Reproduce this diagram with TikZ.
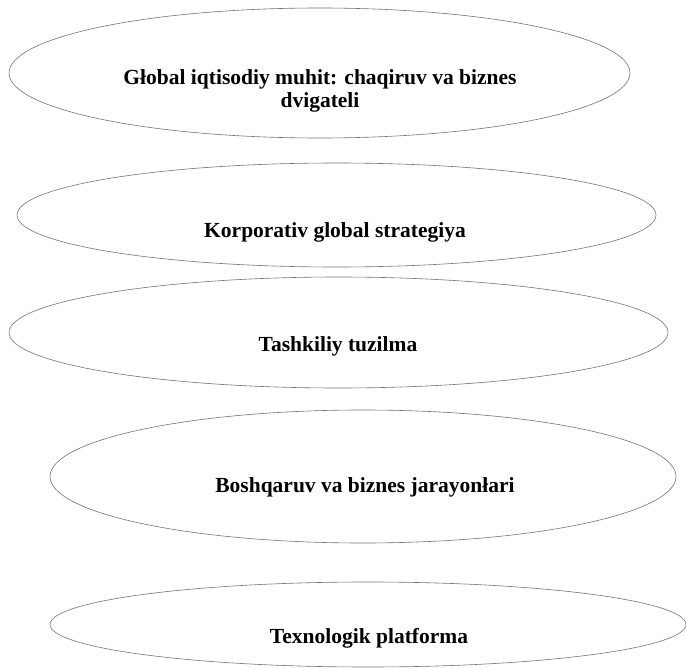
\documentclass[tikz,border=0pt]{standalone}
\usepackage{fontspec}
\setmainfont{Liberation Serif}
\usepackage{tikz}
\usetikzlibrary{shapes}

\begin{document}
\begin{tikzpicture}[x=1pt,y=-1pt,
  stage/.style={draw=black!55,line width=0.6pt,ellipse,inner sep=0pt},
  stagetext/.style={font=\fontsize{21.5}{23}\selectfont\bfseries,align=center,inner sep=0pt}]
\useasboundingbox (0,0) rectangle (686,669);
\node [stage,minimum width=621pt,minimum height=130pt] (env) at (319.5,73) {};
\node [stage,minimum width=639pt,minimum height=104pt] (strat) at (336.5,215) {};
\node [stage,minimum width=659pt,minimum height=111pt] (struct) at (338.5,332.5) {};
\node [stage,minimum width=626pt,minimum height=133pt] (proc) at (363,476.5) {};
\node [stage,minimum width=636pt,minimum height=85pt] (tech) at (368,624.5) {};
\node [stagetext] (envtext) at (320,91) {Głobal iqtisodiy muhit: chaqiruv va biznes\\dvigateli};
\node [stagetext,anchor=base] (strattext) at (335,237) {Korporativ global strategiya};
\node [stagetext,anchor=base] (structtext) at (338,351) {Tashkiliy tuzilma};
\node [stagetext,anchor=base] (proctext) at (365,492) {Boshqaruv va biznes jarayonłari};
\node [stagetext,anchor=base] (techtext) at (369,643) {Texnologik platforma};
\end{tikzpicture}
\end{document}
